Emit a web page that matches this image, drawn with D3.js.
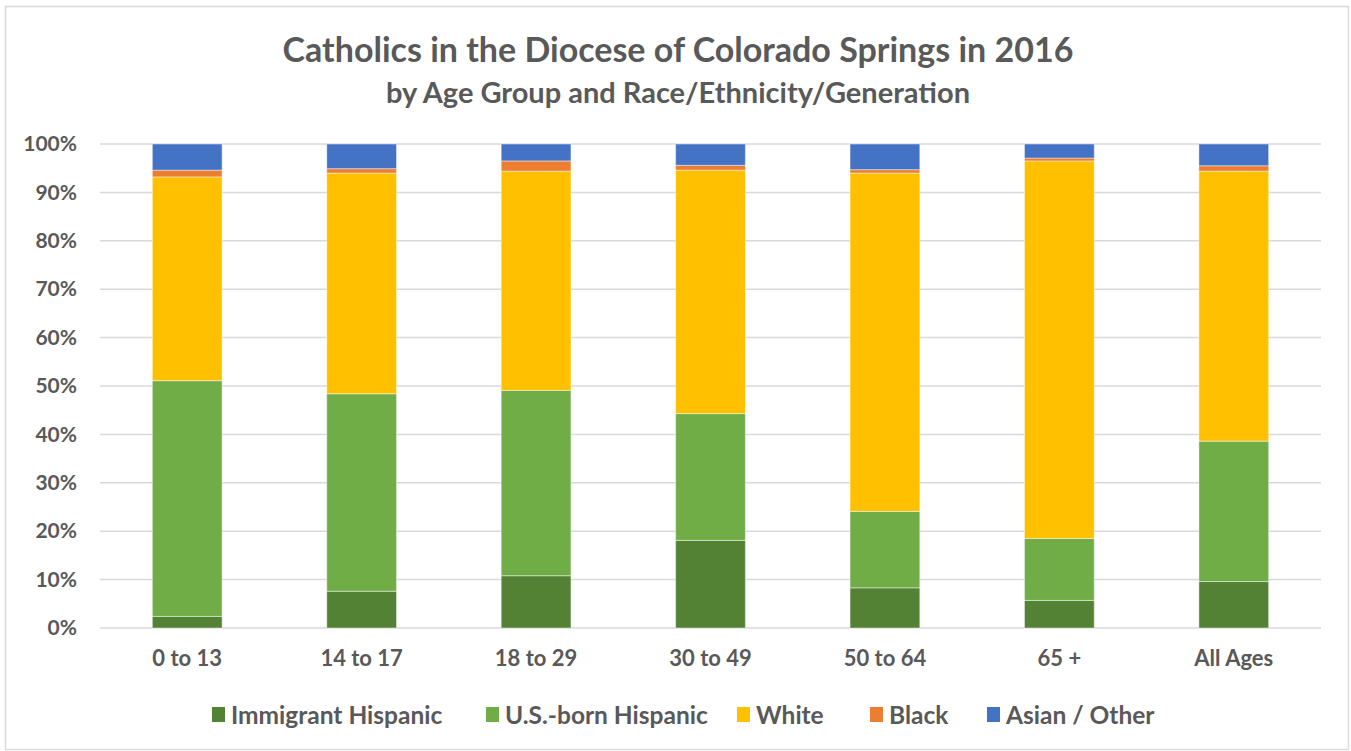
<!DOCTYPE html>
<html>
<head>
<meta charset="utf-8">
<script src="https://cdn.jsdelivr.net/npm/d3@7"></script>
<style>
  body { margin: 0; background: #fff; }
  text { font-family: Lato, "Open Sans", sans-serif; font-weight: bold; fill: #595959; }
</style>
</head>
<body>
<div id="chart"></div>
<script>
// age groups along the x axis
var ageGroups = ["0 to 13", "14 to 17", "18 to 29", "30 to 49", "50 to 64", "65 +", "All Ages"];
var seriesNames = ["Immigrant Hispanic", "U.S.-born Hispanic", "White", "Black", "Asian / Other"];
var seriesColors = ["#548235", "#70ad47", "#ffc000", "#ed7d31", "#4472c4"];

// percent shares
var immigrantHispanic = [2.4, 7.6, 10.8, 18.1, 8.3, 5.7, 9.6];
var usBornHispanic    = [48.7, 40.8, 38.3, 26.2, 15.8, 12.8, 29.0];
var white             = [42.1, 45.6, 45.3, 50.3, 69.9, 78.0, 55.8];
var black             = [1.4, 0.9, 2.1, 1.0, 0.7, 0.6, 1.1];
var asianOther        = [5.4, 5.1, 3.5, 4.4, 5.3, 2.9, 4.5];

var yTicks = [0, 10, 20, 30, 40, 50, 60, 70, 80, 90, 100];

var W = 1351, H = 751;
var margin = {top: 144, right: 30, bottom: 123, left: 100};

var svg = d3.select("#chart").append("svg")
    .attr("width", W)
    .attr("height", H);

// outer chart frame
svg.append("rect")
    .attr("x", 5.5).attr("y", 6.5)
    .attr("width", W - 8).attr("height", H - 8)
    .attr("fill", "#fff")
    .attr("stroke", "#d9d9d9")
    .attr("stroke-width", 1.5);

var table = ageGroups.map(function(g, i) {
  return {
    group: g,
    "Immigrant Hispanic": immigrantHispanic[i],
    "U.S.-born Hispanic": usBornHispanic[i],
    "White": white[i],
    "Black": black[i],
    "Asian / Other": asianOther[i]
  };
});

var x = d3.scaleBand()
    .domain(ageGroups)
    .range([margin.left, W - margin.right])
    .paddingInner(0.6)
    .paddingOuter(0.3);

var y = d3.scaleLinear()
    .domain([0, 100])
    .range([H - margin.bottom, margin.top]);

var color = d3.scaleOrdinal().domain(seriesNames).range(seriesColors);

// gridlines
svg.append("g")
  .selectAll("line")
  .data(yTicks)
  .enter().append("line")
    .attr("x1", margin.left)
    .attr("x2", W - margin.right)
    .attr("y1", function(d) { return y(d); })
    .attr("y2", function(d) { return y(d); })
    .attr("stroke", "#d9d9d9")
    .attr("stroke-width", 1.5);

// y axis labels
var yAxis = d3.axisLeft(y).tickValues(yTicks).tickFormat(function(d) { return d + "%"; }).tickSize(0).tickPadding(23);
var ya = svg.append("g").attr("transform", "translate(" + margin.left + ",0)").call(yAxis);
ya.select(".domain").remove();
ya.selectAll("text").style("font-size", "21px").attr("fill", "#595959");

// x axis labels
var xAxis = d3.axisBottom(x).tickSize(0).tickPadding(22);
var xa = svg.append("g").attr("transform", "translate(0," + y(0) + ")").call(xAxis);
xa.select(".domain").remove();
xa.selectAll("text").style("font-size", "22px").attr("fill", "#595959");

// stacked bars
var stacked = d3.stack().keys(seriesNames)(table);

svg.append("g")
  .selectAll("g")
  .data(stacked)
  .enter().append("g")
    .attr("fill", function(d) { return color(d.key); })
  .selectAll("rect")
  .data(function(d) { return d; })
  .enter().append("rect")
    .attr("x", function(d) { return x(d.data.group); })
    .attr("y", function(d) { return y(d[1]); })
    .attr("width", x.bandwidth())
    .attr("height", function(d) { return y(d[0]) - y(d[1]); })
    .attr("stroke", "#ffffff")
    .attr("stroke-opacity", 0.45)
    .attr("stroke-width", 1);

// titles
svg.append("text")
    .attr("x", 678).attr("y", 62)
    .attr("text-anchor", "middle")
    .style("font-size", "34px")
    .text("Catholics in the Diocese of Colorado Springs in 2016");

svg.append("text")
    .attr("x", 678).attr("y", 103)
    .attr("text-anchor", "middle")
    .style("font-size", "29px")
    .text("by Age Group and Race/Ethnicity/Generation");

// legend
var legendX = [212, 486, 737, 870, 987];
var legend = svg.append("g").selectAll("g")
  .data(seriesNames)
  .enter().append("g")
    .attr("transform", function(d, i) { return "translate(" + legendX[i] + ",715)"; });

legend.append("rect")
    .attr("x", 0).attr("y", -8)
    .attr("width", 13).attr("height", 15)
    .attr("fill", function(d) { return color(d); });

legend.append("text")
    .attr("x", 19).attr("y", 9)
    .style("font-size", "24.5px")
    .text(function(d) { return d; });
</script>
</body>
</html>
